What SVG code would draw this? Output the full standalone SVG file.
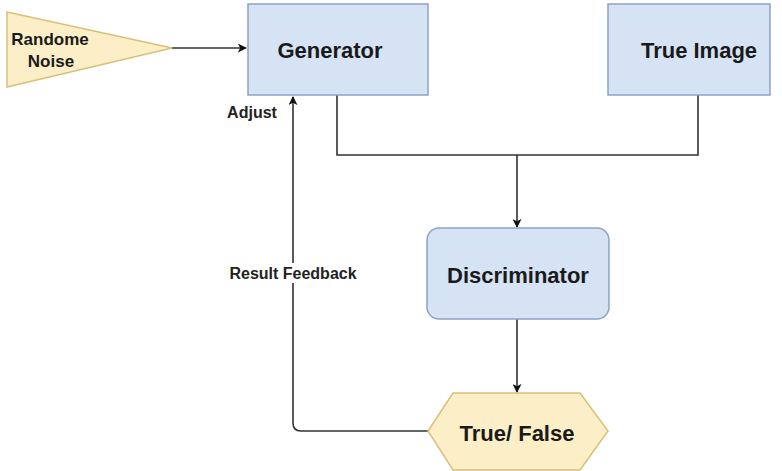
<svg xmlns="http://www.w3.org/2000/svg" width="782" height="471" viewBox="0 0 782 471">
  <style>
    .box { fill: #d5e3f5; stroke: #8ea3c2; stroke-width: 1.5; }
    .warm { fill: #fcefc7; stroke: #d8c07a; stroke-width: 1.5; }
    .title { font-family: "Liberation Sans", Arial, sans-serif; font-weight: bold; font-size: 22px; fill: #1a1a1a; text-anchor: middle; dominant-baseline: central; }
    .small { font-family: "Liberation Sans", Arial, sans-serif; font-weight: bold; font-size: 17px; fill: #1a1a1a; text-anchor: middle; dominant-baseline: central; }
    .label { font-family: "Liberation Sans", Arial, sans-serif; font-weight: bold; font-size: 16px; fill: #222; text-anchor: middle; dominant-baseline: central; }
    .wire { fill: none; stroke: #333; stroke-width: 1.6; }
  </style>
  <defs>
    <marker id="arrow" viewBox="0 0 10 10" refX="9" refY="5" markerWidth="9" markerHeight="9" orient="auto" markerUnits="userSpaceOnUse">
      <path d="M0,0 L10,5 L0,10 L2.5,5 Z" fill="#111"/>
    </marker>
  </defs>
  <rect width="782" height="471" fill="#ffffff"/>

  <g id="connectors">
    <path class="wire" d="M172,48 L246,48" marker-end="url(#arrow)"/>
    <path class="wire" d="M337,95 L337,155 L698,155 L698,95"/>
    <path class="wire" d="M517,155 L517,227" marker-end="url(#arrow)"/>
    <path class="wire" d="M517,319 L517,392" marker-end="url(#arrow)"/>
    <path class="wire" d="M428,431 L301,431 Q293,431 293,423 L293,97" marker-end="url(#arrow)"/>
    <rect x="224" y="263" width="138" height="20" fill="#ffffff"/>
    <text class="label" x="293" y="273">Result Feedback</text>
    <text class="label" x="252" y="112">Adjust</text>
  </g>

  <g id="noise">
    <polygon class="warm" points="7,12 172,48 7,87"/>
    <text class="small" x="50" y="39">Randome</text>
    <text class="small" x="51" y="61">Noise</text>
  </g>

  <g id="generator">
    <rect class="box" x="248" y="4" width="180" height="91"/>
    <text class="title" x="330" y="50">Generator</text>
  </g>

  <g id="true-image">
    <rect class="box" x="608" y="4" width="162" height="91"/>
    <text class="title" x="699" y="50">True Image</text>
  </g>

  <g id="discriminator">
    <rect class="box" x="427" y="228" width="182" height="91" rx="12" ry="12"/>
    <text class="title" x="518" y="275">Discriminator</text>
  </g>

  <g id="verdict">
    <polygon class="warm" points="428,431 453,393 580,393 608,431 580,470 453,470"/>
    <text class="title" x="517" y="433">True/ False</text>
  </g>
</svg>
